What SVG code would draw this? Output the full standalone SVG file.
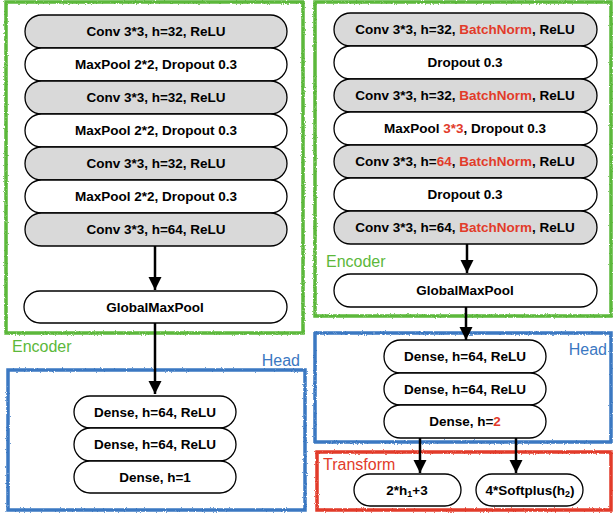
<svg xmlns="http://www.w3.org/2000/svg" width="613" height="517" viewBox="0 0 613 517">
<style>
.pill{stroke:#000;stroke-width:1.3}
.g{fill:#d9d9d9}
.w{fill:#fff}
.t{font-family:"Liberation Sans",Arial,sans-serif;font-weight:bold;font-size:13.5px;fill:#000;text-anchor:middle}
.r{fill:#e23b2a}
.lbl{font-family:"Liberation Sans",Arial,sans-serif;font-size:16px}
.frame{fill:none;stroke-width:3.5;filter:url(#rough)}
.conn{stroke:#000;stroke-width:2.5;fill:none}
</style>
<defs>
<filter id="rough" x="-5%" y="-5%" width="110%" height="110%">
<feTurbulence type="fractalNoise" baseFrequency="0.9" numOctaves="2" seed="3"/>
<feDisplacementMap in="SourceGraphic" scale="2.5" xChannelSelector="R" yChannelSelector="G"/>
</filter>
<marker id="ah" markerUnits="userSpaceOnUse" markerWidth="15" markerHeight="15" refX="13" refY="6.5" orient="auto">
<path d="M0,0 L13,6.5 L0,13 Z" fill="#000"/>
</marker>
</defs>

<g id="frames">
<rect class="frame" x="6" y="2" width="297" height="331" stroke="#5cb83a"/>
<rect class="frame" x="315" y="2" width="296" height="314" stroke="#5cb83a"/>
<rect class="frame" x="8" y="370" width="297" height="140" stroke="#3b78c2"/>
<rect class="frame" x="315" y="333" width="296" height="109" stroke="#3b78c2"/>
<rect class="frame" x="317" y="452" width="294" height="58" stroke="#e23b2a"/>
<text class="lbl" x="12" y="352" fill="#5cb83a">Encoder</text>
<text class="lbl" x="326" y="267" fill="#5cb83a">Encoder</text>
<text class="lbl" x="300" y="366" fill="#3b78c2" text-anchor="end">Head</text>
<text class="lbl" x="607" y="355" fill="#3b78c2" text-anchor="end">Head</text>
<text class="lbl" x="323" y="470" fill="#e23b2a">Transform</text>
</g>

<g id="connectors">
<line class="conn" x1="155" y1="246" x2="155" y2="290" marker-end="url(#ah)"/>
<line class="conn" x1="155" y1="323" x2="155" y2="394" marker-end="url(#ah)"/>
<line class="conn" x1="467" y1="244" x2="467" y2="273" marker-end="url(#ah)"/>
<line class="conn" x1="466" y1="307" x2="466" y2="340" marker-end="url(#ah)"/>
<line class="conn" x1="420" y1="438" x2="420" y2="473" marker-end="url(#ah)"/>
<line class="conn" x1="516" y1="438" x2="516" y2="473" marker-end="url(#ah)"/>
</g>

<!-- Left encoder -->
<g id="L1"><rect class="pill g" x="25" y="15" width="262" height="33" rx="16.5"/><text class="t" x="156" y="36">Conv 3*3, h=32, ReLU</text></g>
<g id="L2"><rect class="pill w" x="25" y="48" width="262" height="33" rx="16.5"/><text class="t" x="156" y="69">MaxPool 2*2, Dropout 0.3</text></g>
<g id="L3"><rect class="pill g" x="25" y="81" width="262" height="33" rx="16.5"/><text class="t" x="156" y="102">Conv 3*3, h=32, ReLU</text></g>
<g id="L4"><rect class="pill w" x="25" y="114" width="262" height="33" rx="16.5"/><text class="t" x="156" y="135">MaxPool 2*2, Dropout 0.3</text></g>
<g id="L5"><rect class="pill g" x="25" y="147" width="262" height="33" rx="16.5"/><text class="t" x="156" y="168">Conv 3*3, h=32, ReLU</text></g>
<g id="L6"><rect class="pill w" x="25" y="180" width="262" height="33" rx="16.5"/><text class="t" x="156" y="201">MaxPool 2*2, Dropout 0.3</text></g>
<g id="L7"><rect class="pill g" x="25" y="213" width="262" height="33" rx="16.5"/><text class="t" x="156" y="234">Conv 3*3, h=64, ReLU</text></g>
<g id="LGMP"><rect class="pill w" x="24" y="291" width="263" height="32" rx="16"/><text class="t" x="155" y="312">GlobalMaxPool</text></g>
<g id="LH1"><rect class="pill w" x="74" y="396" width="162" height="32" rx="16"/><text class="t" x="155" y="417">Dense, h=64, ReLU</text></g>
<g id="LH2"><rect class="pill w" x="74" y="428" width="162" height="33" rx="16.5"/><text class="t" x="155" y="449">Dense, h=64, ReLU</text></g>
<g id="LH3"><rect class="pill w" x="74" y="461" width="162" height="32" rx="16"/><text class="t" x="155" y="482">Dense, h=1</text></g>

<!-- Right encoder -->
<g id="R1"><rect class="pill g" x="334" y="13" width="263" height="33" rx="16.5"/><text class="t" x="465" y="34">Conv 3*3, h=32, <tspan class="r">BatchNorm</tspan>, ReLU</text></g>
<g id="R2"><rect class="pill w" x="334" y="46" width="263" height="33" rx="16.5"/><text class="t" x="465" y="67">Dropout 0.3</text></g>
<g id="R3"><rect class="pill g" x="334" y="79" width="263" height="33" rx="16.5"/><text class="t" x="465" y="100">Conv 3*3, h=32, <tspan class="r">BatchNorm</tspan>, ReLU</text></g>
<g id="R4"><rect class="pill w" x="334" y="112" width="263" height="33" rx="16.5"/><text class="t" x="465" y="133">MaxPool <tspan class="r">3*3</tspan>, Dropout 0.3</text></g>
<g id="R5"><rect class="pill g" x="334" y="145" width="263" height="33" rx="16.5"/><text class="t" x="465" y="166">Conv 3*3, h=<tspan class="r">64</tspan>, <tspan class="r">BatchNorm</tspan>, ReLU</text></g>
<g id="R6"><rect class="pill w" x="334" y="178" width="263" height="33" rx="16.5"/><text class="t" x="465" y="199">Dropout 0.3</text></g>
<g id="R7"><rect class="pill g" x="334" y="211" width="263" height="33" rx="16.5"/><text class="t" x="465" y="232">Conv 3*3, h=64, <tspan class="r">BatchNorm</tspan>, ReLU</text></g>
<g id="RGMP"><rect class="pill w" x="334" y="274" width="263" height="33" rx="16.5"/><text class="t" x="465" y="295">GlobalMaxPool</text></g>
<g id="RH1"><rect class="pill w" x="384" y="340" width="162" height="33" rx="16.5"/><text class="t" x="465" y="361">Dense, h=64, ReLU</text></g>
<g id="RH2"><rect class="pill w" x="384" y="373" width="162" height="32" rx="16"/><text class="t" x="465" y="394">Dense, h=64, ReLU</text></g>
<g id="RH3"><rect class="pill w" x="384" y="405" width="162" height="33" rx="16.5"/><text class="t" x="465" y="426">Dense, h=<tspan class="r">2</tspan></text></g>
<g id="T1"><rect class="pill w" x="354" y="474" width="107" height="32" rx="16"/><text class="t" x="407" y="495">2*h<tspan font-size="9" dy="2">1</tspan><tspan dy="-2">+3</tspan></text></g>
<g id="T2"><rect class="pill w" x="476" y="474" width="107" height="32" rx="16"/><text class="t" x="530" y="495">4*Softplus(h<tspan font-size="9" dy="2">2</tspan><tspan dy="-2">)</tspan></text></g>
</svg>
